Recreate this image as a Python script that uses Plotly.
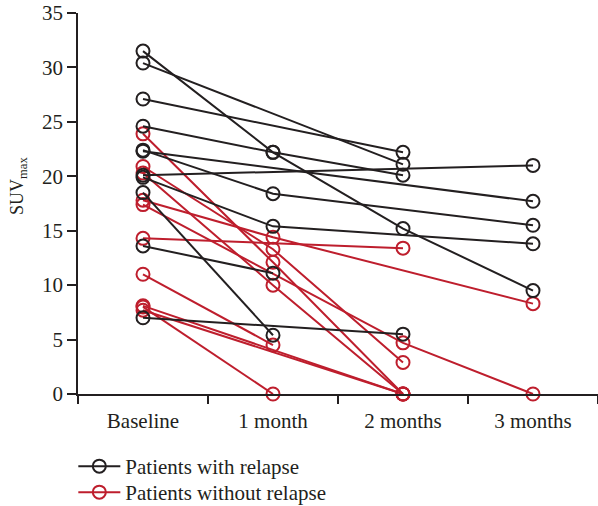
import plotly.graph_objects as go

categories = ["Baseline", "1 month", "2 months", "3 months"]

# SUVmax per patient (None = no measurement at that time point)
relapse = [
    [31.5, 22.2, 15.2, 9.5],
    [30.4, None, 21.1, None],
    [27.1, None, 22.2, None],
    [24.6, 22.2, 20.1, None],
    [22.3, None, None, 17.7],
    [22.4, 18.4, None, 15.5],
    [20.1, None, None, 21.0],
    [19.9, 15.4, None, 13.8],
    [18.5, 5.4, None, None],
    [13.6, 11.1, None, None],
    [7.0, None, 5.5, None],
]
no_relapse = [
    [23.9, 12.1, 0.0, None],
    [20.9, 13.3, 2.9, None],
    [20.3, 10.0, 0.0, None],
    [17.4, None, 4.7, 0.0],
    [17.8, 14.4, None, 8.3],
    [14.3, None, 13.4, None],
    [11.0, 4.5, None, None],
    [8.0, 0.0, None, None],
    [8.1, None, 0.0, None],
    [7.7, None, 0.0, None],
]

BLACK = "#231f20"
RED = "#be1e2d"
FONT = "Liberation Serif"
FS = 21

fig = go.Figure()


def add_group(data, color, name, legend_id):
    for i, vals in enumerate(data):
        fig.add_trace(go.Scatter(
            x=categories, y=vals, mode="lines+markers",
            connectgaps=True, cliponaxis=False,
            line=dict(color=color, width=2),
            marker=dict(symbol="circle-open", size=13, color=color,
                        line=dict(width=2, color=color)),
            name=name, legendgroup=name, showlegend=(i == 0),
            legend=legend_id,
        ))


add_group(no_relapse, RED, "Patients without relapse", "legend2")
add_group(relapse, BLACK, "Patients with relapse", "legend")

legend_common = dict(
    x=-0.009, xref="paper", yref="container", xanchor="left", yanchor="top",
    orientation="v", font=dict(size=FS, family=FONT, color=BLACK),
    bgcolor="rgba(0,0,0,0)", itemwidth=42,
)

fig.update_layout(
    width=598, height=506,
    margin=dict(l=78, r=0, t=13, b=112),
    paper_bgcolor="white", plot_bgcolor="white",
    font=dict(family=FONT, size=FS, color=BLACK),
    showlegend=True,
    legend=dict(y=(506 - 446) / 506, **legend_common),
    legend2=dict(y=(506 - 472) / 506, **legend_common),
    annotations=[dict(
        text="SUV<sub>max</sub>", textangle=-90, showarrow=False,
        xref="paper", yref="paper", x=(18 - 78) / 520, y=(394 - 186) / 381,
        xanchor="center", yanchor="middle",
        font=dict(size=18, family=FONT, color=BLACK),
    )],
)
fig.update_xaxes(
    type="category", categoryorder="array", categoryarray=categories,
    range=[-0.5, 3.5], showgrid=False, zeroline=False, automargin=False,
    showline=True, linecolor=BLACK, linewidth=1.5,
    ticks="outside", tickson="boundaries", ticklen=8, tickwidth=1.5,
    tickcolor=BLACK, tickfont=dict(size=FS, family=FONT, color=BLACK),
    ticklabelstandoff=7,
)
fig.update_yaxes(
    range=[0, 35], dtick=5, showgrid=False, zeroline=False, automargin=False,
    showline=True, linecolor=BLACK, linewidth=1.5,
    ticks="outside", ticklen=9, tickwidth=1.5, tickcolor=BLACK,
    tickfont=dict(size=FS, family=FONT, color=BLACK),
)

fig.write_html("out.html", config={"displayModeBar": False},
               post_script="document.body.style.margin='0';")
